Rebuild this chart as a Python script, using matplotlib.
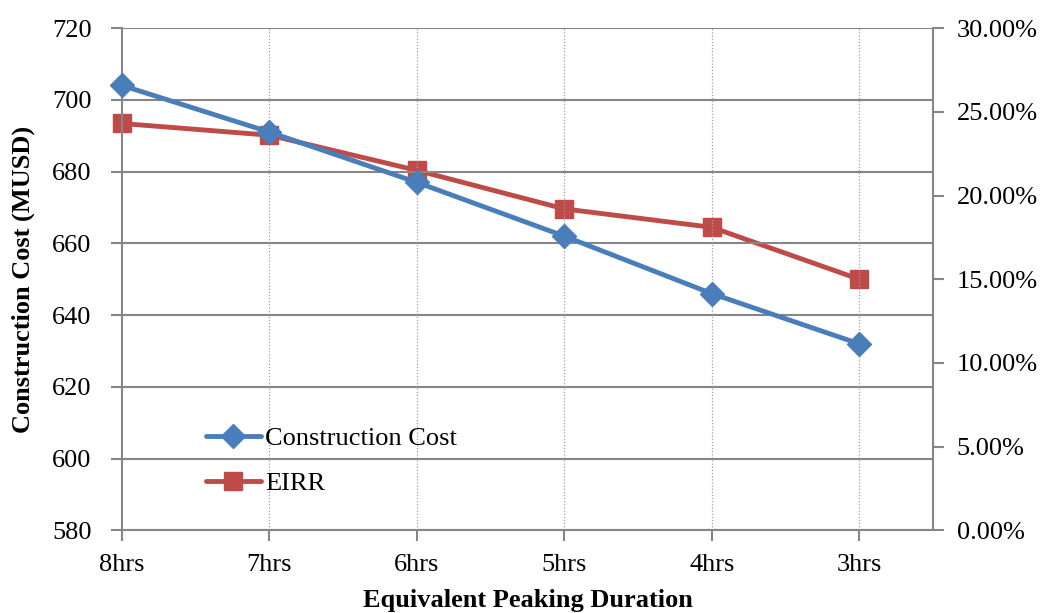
import matplotlib
matplotlib.use("Agg")
import matplotlib.pyplot as plt
from matplotlib.ticker import FuncFormatter

plt.rcParams['font.family'] = ['Liberation Serif', 'DejaVu Serif']

durations = ["8hrs", "7hrs", "6hrs", "5hrs", "4hrs", "3hrs"]
construction_cost = [704, 691, 677, 662, 646, 632]
eirr_pct = [24.3, 23.6, 21.5, 19.2, 18.1, 15.0]

blue = "#4A7EBB"
red = "#BE4B48"
grey = "#868686"
fs = 19

fig = plt.figure(figsize=(10.4, 6.13), dpi=100)
ax = fig.add_axes([0.1173, 0.1346, 0.7798, 0.8197])
ax2 = ax.twinx()

x = list(range(len(durations)))

# horizontal grid on the cost axis
for v in range(580, 721, 20):
    ax.axhline(v, color=grey, lw=1.5, zorder=0)
# dotted vertical grid at categories
for xi in x[1:]:
    ax.axvline(xi, color="#a0a0a0", lw=0.9, ls=(0, (1, 1.5)), zorder=0)

l1, = ax.plot(x, construction_cost, color=blue, lw=3.5, marker='D', ms=12,
              solid_capstyle='round', label="Construction Cost", zorder=3, clip_on=False)
l2, = ax2.plot(x, eirr_pct, color=red, lw=3.5, marker='s', ms=13,
               solid_capstyle='round', label="EIRR", zorder=3, clip_on=False)

ax.set_xlim(0, 5.5)
ax.set_ylim(580, 720)
ax.set_yticks(range(580, 721, 20))
ax2.set_ylim(0, 30)
ax2.set_yticks([0, 5, 10, 15, 20, 25, 30])
ax2.yaxis.set_major_formatter(FuncFormatter(lambda v, p: f"{v:.2f}%"))

ax.set_xticks(x)
ax.set_xticklabels(durations)

for a in (ax, ax2):
    for s in a.spines.values():
        s.set_visible(False)
    a.tick_params(colors=grey, labelcolor="black", labelsize=fs, width=1.5, length=8, direction='out')
ax.spines['left'].set_visible(True)
ax.spines['bottom'].set_visible(True)
ax2.spines['right'].set_visible(True)
for s in (ax.spines['left'], ax.spines['bottom'], ax2.spines['right']):
    s.set_color(grey)
    s.set_linewidth(1.5)
ax.tick_params(axis='y', pad=14)
ax.tick_params(axis='x', pad=9)
ax2.tick_params(axis='y', pad=9)

ax.set_ylabel("Construction Cost (MUSD)", fontsize=fs, fontweight='bold', labelpad=12)
ax.set_xlabel("Equivalent Peaking Duration", fontsize=fs, fontweight='bold', labelpad=9)

ax.set_zorder(ax2.get_zorder() + 1)
ax.patch.set_visible(False)

leg = ax.legend([l1, l2], ["Construction Cost", "EIRR"], loc='upper left',
                bbox_to_anchor=(0.09, 0.227), frameon=False, fontsize=fs,
                handlelength=2.1, handletextpad=0.15, labelspacing=0.8, borderaxespad=0)

fig.savefig("out.png", dpi=100)
